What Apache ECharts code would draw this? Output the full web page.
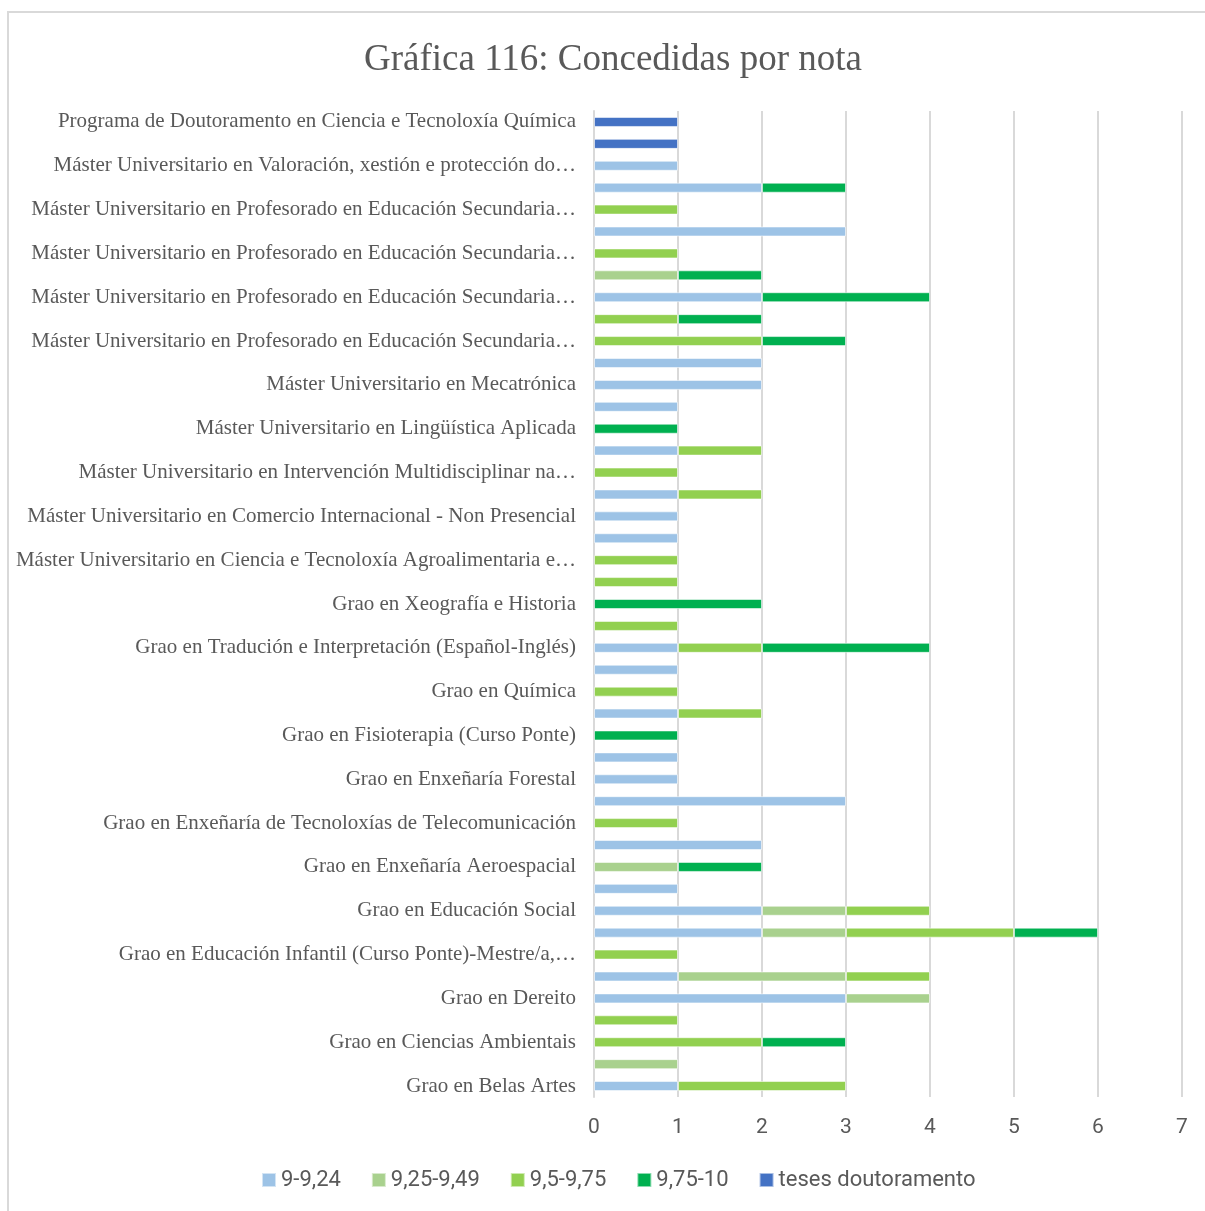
<!DOCTYPE html>
<html>
<head>
<meta charset="utf-8">
<script src="https://cdn.jsdelivr.net/npm/echarts@6/dist/echarts.min.js"></script>
<style>
html,body{margin:0;padding:0;background:#fff;}
#chart{width:1205px;height:1211px;}
</style>
</head>
<body>
<div id="chart"></div>
<script>
// Categories, bottom (index 0) to top (index 44). Only every other label is shown in the original.
const categories = [
  "Grao en Belas Artes", "(sen etiqueta 1)",
  "Grao en Ciencias Ambientais", "(sen etiqueta 3)",
  "Grao en Dereito", "(sen etiqueta 5)",
  "Grao en Educación Infantil (Curso Ponte)-Mestre/a,…", "(sen etiqueta 7)",
  "Grao en Educación Social", "(sen etiqueta 9)",
  "Grao en Enxeñaría Aeroespacial", "(sen etiqueta 11)",
  "Grao en Enxeñaría de Tecnoloxías de Telecomunicación", "(sen etiqueta 13)",
  "Grao en Enxeñaría Forestal", "(sen etiqueta 15)",
  "Grao en Fisioterapia (Curso Ponte)", "(sen etiqueta 17)",
  "Grao en Química", "(sen etiqueta 19)",
  "Grao en Tradución e Interpretación (Español-Inglés)", "(sen etiqueta 21)",
  "Grao en Xeografía e Historia", "(sen etiqueta 23)",
  "Máster Universitario en Ciencia e Tecnoloxía Agroalimentaria e…", "(sen etiqueta 25)",
  "Máster Universitario en Comercio Internacional - Non Presencial", "(sen etiqueta 27)",
  "Máster Universitario en Intervención Multidisciplinar na…", "(sen etiqueta 29)",
  "Máster Universitario en Lingüística Aplicada", "(sen etiqueta 31)",
  "Máster Universitario en Mecatrónica", "(sen etiqueta 33)",
  "Máster Universitario en Profesorado en Educación Secundaria…", "(sen etiqueta 35)",
  "Máster Universitario en Profesorado en Educación Secundaria… ", "(sen etiqueta 37)",
  "Máster Universitario en Profesorado en Educación Secundaria…  ", "(sen etiqueta 39)",
  "Máster Universitario en Profesorado en Educación Secundaria…   ", "(sen etiqueta 41)",
  "Máster Universitario en Valoración, xestión e protección do…", "(sen etiqueta 43)",
  "Programa de Doutoramento en Ciencia e Tecnoloxía Química"
];

const seriesNames = ["9-9,24", "9,25-9,49", "9,5-9,75", "9,75-10", "teses doutoramento"];

const s9_924 =    [1,0,0,0,3,1,0,2,2,1, 0,2,0,3,1,1,0,1,0,1, 1,0,0,0,0,1,1,1,0,1, 0,1,2,2,0,0,2,0,0,3, 0,2,1,0,0];
const s925_949 =  [0,1,0,0,1,2,0,1,1,0, 1,0,0,0,0,0,0,0,0,0, 0,0,0,0,0,0,0,0,0,0, 0,0,0,0,0,0,0,1,0,0, 0,0,0,0,0];
const s95_975 =   [2,0,2,1,0,1,1,2,1,0, 0,0,1,0,0,0,0,1,1,0, 1,1,0,1,1,0,0,1,1,1, 0,0,0,0,2,1,0,0,1,0, 1,0,0,0,0];
const s975_10 =   [0,0,1,0,0,0,0,1,0,0, 1,0,0,0,0,0,1,0,0,0, 2,0,2,0,0,0,0,0,0,0, 1,0,0,0,1,1,2,1,0,0, 0,1,0,0,0];
const sTeses =    [0,0,0,0,0,0,0,0,0,0, 0,0,0,0,0,0,0,0,0,0, 0,0,0,0,0,0,0,0,0,0, 0,0,0,0,0,0,0,0,0,0, 0,0,0,1,1];

const xTicks = [0, 1, 2, 3, 4, 5, 6, 7];
const colors = ["#9DC3E6", "#A9D18E", "#92D050", "#00B050", "#4472C4"];

const allValues = [s9_924, s925_949, s95_975, s975_10, sTeses];

const serifFont = "'Liberation Serif', 'DejaVu Serif', serif";
const sansFont = "'Liberation Sans Narrow', 'Roboto', 'Noto Sans', sans-serif";

const chart = echarts.init(document.getElementById('chart'), null, {renderer: 'canvas'});
chart.setOption({
  backgroundColor: '#ffffff',
  animation: false,
  color: colors,
  title: {
    text: 'Gráfica 116: Concedidas por nota',
    left: 359,
    top: 37,
    textStyle: {fontFamily: serifFont, fontSize: 37, fontWeight: 'normal', color: '#595959'}
  },
  graphic: [{
    type: 'rect',
    shape: {x: 8, y: 12, width: 1400, height: 1400},
    style: {fill: 'none', stroke: '#D9D9D9', lineWidth: 2},
    silent: true
  }],
  grid: {left: 594, right: 23, top: 111, bottom: 114, outerBoundsMode: 'none'},
  legend: {
    data: seriesNames,
    bottom: 15,
    left: 256,
    icon: 'rect',
    itemWidth: 14,
    itemHeight: 14,
    itemGap: 30,
    textStyle: {fontFamily: sansFont, fontSize: 22, color: '#595959'}
  },
  xAxis: {
    type: 'value',
    min: xTicks[0],
    max: xTicks[xTicks.length - 1],
    interval: 1,
    axisLine: {show: false},
    axisTick: {show: false},
    axisLabel: {fontFamily: sansFont, fontSize: 21, color: '#595959', margin: 20},
    splitLine: {show: true, lineStyle: {color: '#D9D9D9', width: 2}}
  },
  yAxis: {
    type: 'category',
    data: categories,
    axisLine: {show: true, lineStyle: {color: '#D9D9D9', width: 2}},
    axisTick: {show: false},
    axisLabel: {
      interval: 1, fontFamily: serifFont, fontSize: 21, color: '#595959', margin: 18,
      formatter: v => v.trim()
    },
    splitLine: {show: false}
  },
  series: seriesNames.map((name, i) => ({
    name: name,
    type: 'bar',
    stack: 'total',
    barWidth: 10,
    itemStyle: {color: colors[i], borderColor: 'rgba(255,255,255,0.55)', borderWidth: 1},
    data: allValues[i].map(v => v === 0 ? '-' : v)
  }))
});
</script>
</body>
</html>
